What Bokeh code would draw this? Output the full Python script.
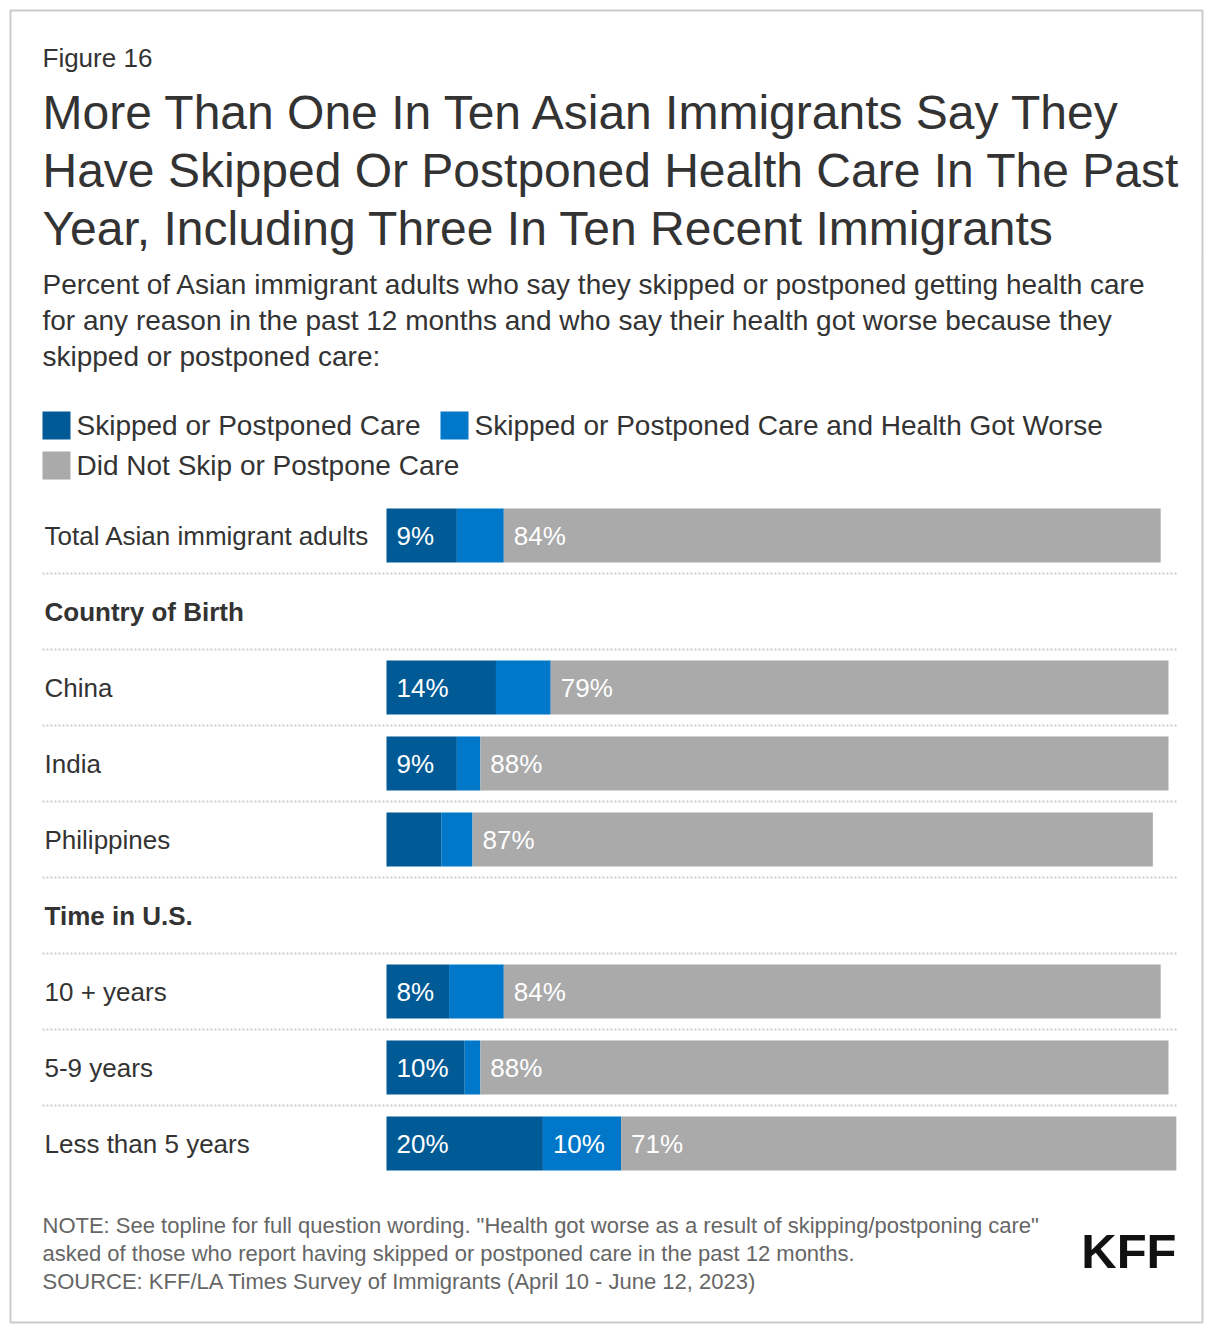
from bokeh.plotting import figure
from bokeh.models import Range1d, ColumnDataSource
from bokeh.core.properties import value
from bokeh.embed import file_html
from bokeh.resources import INLINE

# ---------------- data ----------------
categories = ["Total Asian immigrant adults", "China", "India", "Philippines",
              "10 + years", "5-9 years", "Less than 5 years"]
skipped = [9, 14, 9, 7, 8, 10, 20]
worse = [6, 7, 3, 4, 7, 2, 10]
not_skipped = [84, 79, 88, 87, 84, 88, 71]
groups = ["Country of Birth", "Time in U.S."]
series_names = ["Skipped or Postponed Care",
                "Skipped or Postponed Care and Health Got Worse",
                "Did Not Skip or Postpone Care"]

title_lines = ["More Than One In Ten Asian Immigrants Say They",
               "Have Skipped Or Postponed Health Care In The Past",
               "Year, Including Three In Ten Recent Immigrants"]
subtitle_lines = ["Percent of Asian immigrant adults who say they skipped or postponed getting health care",
                  "for any reason in the past 12 months and who say their health got worse because they",
                  "skipped or postponed care:"]
note_lines = ["NOTE: See topline for full question wording. \"Health got worse as a result of skipping/postponing care\"",
              "asked of those who report having skipped or postponed care in the past 12 months.",
              "SOURCE: KFF/LA Times Survey of Immigrants (April 10 - June 12, 2023)"]

# ---------------- styles ----------------
W, H = 1204, 1324
FONT = value("Liberation Sans")
C_DARK = "#005a96"
C_MID = "#0077c8"
C_GRAY = "#aaaaaa"
TXT = "#333333"

# bars: 0% at canvas x=386, 7.82 px per percent
x0_px, ppu = 386, 7.82
p = figure(width=W, height=H, output_backend="svg", toolbar_location=None,
           x_range=Range1d(-x0_px / ppu, (W - x0_px) / ppu),
           y_range=Range1d(H, 0), min_border=0)
p.extra_x_ranges = {"px": Range1d(0, W)}
p.axis.visible = False
p.grid.visible = False
p.outline_line_color = None
p.background_fill_color = "white"
p.border_fill_color = "white"

# border
p.quad(left=[10], right=[1202], top=[10], bottom=[1322], x_range_name="px",
       fill_color=None, line_color="#cccccc", line_width=2)

# header texts
p.text(x=[42], y=[57], text=["Figure 16"], x_range_name="px", text_font=FONT,
       text_font_size="26px", text_color=TXT, text_baseline="middle")
p.text(x=[42] * 3, y=[112, 170, 228], text=title_lines, x_range_name="px", text_font=FONT,
       text_font_size="48px", text_color=TXT, text_baseline="middle")
p.text(x=[42] * 3, y=[284, 320, 356], text=subtitle_lines, x_range_name="px", text_font=FONT,
       text_font_size="28px", text_color=TXT, text_baseline="middle")

# legend
leg_x = [42, 440, 42]
leg_y = [425, 425, 465]
leg_col = [C_DARK, C_MID, C_GRAY]
p.rect(x=[lx + 14 for lx in leg_x], y=leg_y, width=28, height=28, x_range_name="px",
       fill_color=leg_col, line_color=None)
p.text(x=[lx + 34 for lx in leg_x], y=leg_y, text=series_names, x_range_name="px",
       text_font=FONT, text_font_size="28px", text_color=TXT, text_baseline="middle")

# rows layout
row_labels = [categories[0], groups[0]] + categories[1:4] + [groups[1]] + categories[4:]
row_bold = [False, True, False, False, False, True, False, False, False]
row_y = [535 + 76 * i for i in range(len(row_labels))]
bar_y = [y for y, lab in zip(row_y, row_labels) if lab in categories]

for lab, y, b in zip(row_labels, row_y, row_bold):
    p.text(x=[44], y=[y], text=[lab], x_range_name="px", text_font=FONT,
           text_font_size="26px", text_color=TXT, text_baseline="middle",
           text_font_style="bold" if b else "normal")

# separators
for y in row_y[:-1]:
    p.line(x=[42, 1176], y=[y + 38, y + 38], x_range_name="px",
           line_color="#cccccc", line_width=2, line_dash="2 2")

# stacked bars
s1 = skipped
s2 = [a + b for a, b in zip(skipped, worse)]
s3 = [a + c for a, c in zip(s2, not_skipped)]
src = ColumnDataSource(dict(y=bar_y, l1=[0] * len(s1), r1=s1, r2=s2, r3=s3))
p.hbar(y="y", left="l1", right="r1", height=54, fill_color=C_DARK, line_color=None, source=src)
p.hbar(y="y", left="r1", right="r2", height=54, fill_color=C_MID, line_color=None, source=src)
p.hbar(y="y", left="r2", right="r3", height=54, fill_color=C_GRAY, line_color=None, source=src)

# value labels (shown where the segment is wide enough)
lx, ly, lt = [], [], []
for i, y in enumerate(bar_y):
    for left, v in ((0, skipped[i]), (s1[i], worse[i]), (s2[i], not_skipped[i])):
        if v >= 8:
            lx.append(left + 10 / ppu)
            ly.append(y)
            lt.append(f"{v}%")
p.text(x=lx, y=ly, text=lt, text_font=FONT, text_font_size="26px",
       text_color="white", text_baseline="middle")

# footer
p.text(x=[42] * 3, y=[1225, 1253, 1281], text=note_lines, x_range_name="px", text_font=FONT,
       text_font_size="22px", text_color="#666666", text_baseline="middle")
p.text(x=[1176], y=[1250], text=["KFF"], x_range_name="px", text_font=FONT,
       text_font_size="49px", text_font_style="bold", text_color="#111111",
       text_align="right", text_baseline="middle")

open("out.html", "w").write(file_html(p, INLINE))
